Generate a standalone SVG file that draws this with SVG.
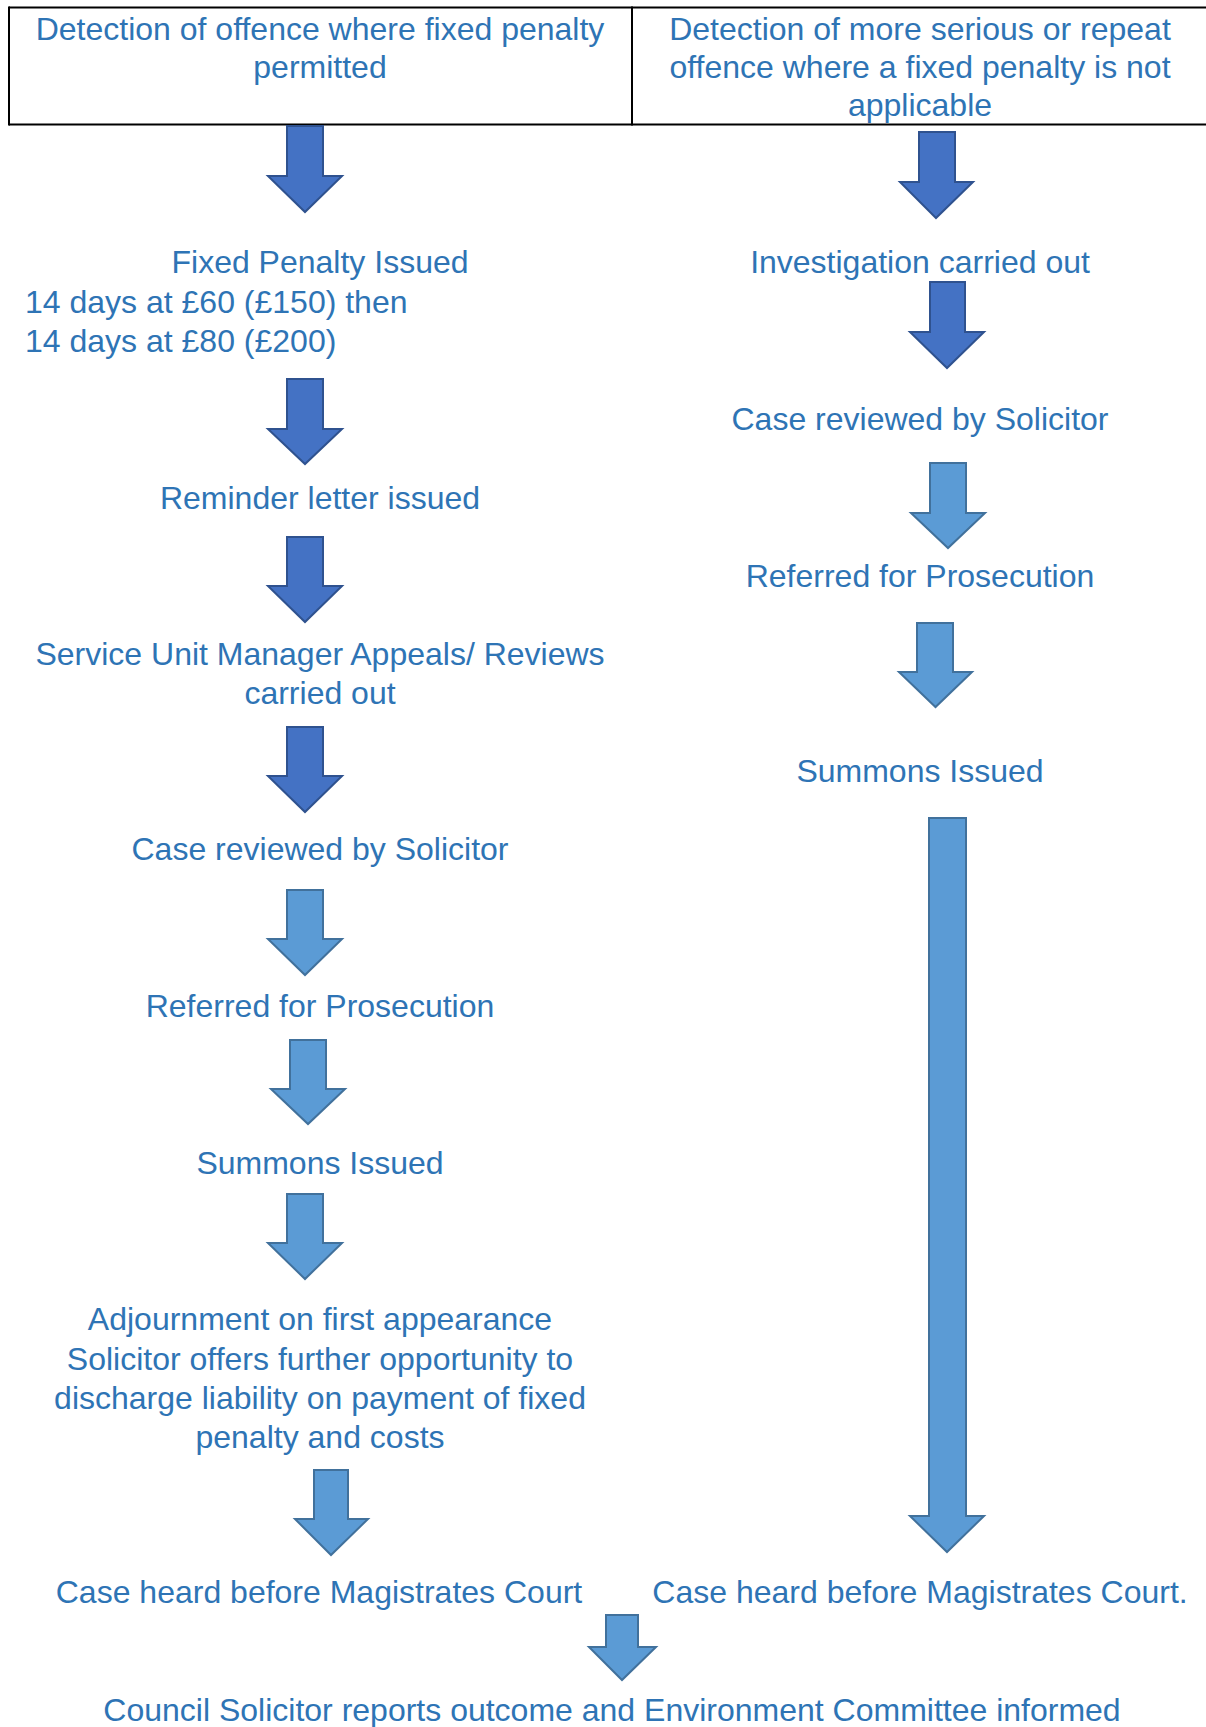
<svg xmlns="http://www.w3.org/2000/svg" width="1206" height="1727" viewBox="0 0 1206 1727">
<style>
.t{font-family:"Liberation Sans",Arial,sans-serif;font-size:32px;fill:#2E74B5;text-anchor:middle}
.tl{font-family:"Liberation Sans",Arial,sans-serif;font-size:32px;fill:#2E74B5;text-anchor:start}
.dk{fill:#4472C4;stroke:#2F528F;stroke-width:2;stroke-linejoin:miter}
.lt{fill:#5B9BD5;stroke:#41719C;stroke-width:2;stroke-linejoin:miter}
.cell{fill:none;stroke:#000;stroke-width:2}
</style>
<rect width="1206" height="1727" fill="#fff"/>
<g id="header">
<line class="cell" x1="9" y1="7.5" x2="1206" y2="7.5"/>
<line class="cell" x1="9" y1="124.5" x2="1206" y2="124.5"/>
<line class="cell" x1="9" y1="6.5" x2="9" y2="125.5"/>
<line class="cell" x1="632" y1="6.5" x2="632" y2="125.5"/>
</g>
<g id="n-detect-fixed">
<text class="t" x="320" y="39.5">Detection of offence where fixed penalty</text>
<text class="t" x="320" y="77.5">permitted</text>
</g>
<g id="n-detect-serious">
<text class="t" x="920" y="39.5">Detection of more serious or repeat</text>
<text class="t" x="920" y="77.5">offence where a fixed penalty is not</text>
<text class="t" x="920" y="115.5">applicable</text>
</g>
<g id="n-fixed-issued">
<text class="t" x="320" y="273">Fixed Penalty Issued</text>
<text class="tl" x="25" y="313">14 days at £60 (£150) then</text>
<text class="tl" x="25" y="352">14 days at £80 (£200)</text>
</g>
<g id="n-reminder"><text class="t" x="320" y="509">Reminder letter issued</text></g>
<g id="n-sum-appeals">
<text class="t" x="320" y="665">Service Unit Manager Appeals/ Reviews</text>
<text class="t" x="320" y="704">carried out</text>
</g>
<g id="n-left-review"><text class="t" x="320" y="860">Case reviewed by Solicitor</text></g>
<g id="n-left-referred"><text class="t" x="320" y="1017">Referred for Prosecution</text></g>
<g id="n-left-summons"><text class="t" x="320" y="1174">Summons Issued</text></g>
<g id="n-adjournment">
<text class="t" x="320" y="1330">Adjournment on first appearance</text>
<text class="t" x="320" y="1370">Solicitor offers further opportunity to</text>
<text class="t" x="320" y="1409">discharge liability on payment of fixed</text>
<text class="t" x="320" y="1448">penalty and costs</text>
</g>
<g id="n-left-court"><text class="t" x="319" y="1603">Case heard before Magistrates Court</text></g>
<g id="n-right-court"><text class="t" x="920" y="1603">Case heard before Magistrates Court.</text></g>
<g id="n-council"><text class="t" x="612" y="1721">Council Solicitor reports outcome and Environment Committee informed</text></g>
<g id="n-investigation"><text class="t" x="920" y="273">Investigation carried out</text></g>
<g id="n-right-review"><text class="t" x="920" y="430">Case reviewed by Solicitor</text></g>
<g id="n-right-referred"><text class="t" x="920" y="587">Referred for Prosecution</text></g>
<g id="n-right-summons"><text class="t" x="920" y="782">Summons Issued</text></g>
<g id="connectors">
<polygon class="dk" points="287,126 323,126 323,176 342,176 305,212 268,176 287,176"/>
<polygon class="dk" points="287,379 323,379 323,429 342,429 305,464 268,429 287,429"/>
<polygon class="dk" points="287,537 323,537 323,586 342,586 305,622 268,586 287,586"/>
<polygon class="dk" points="287,727 323,727 323,776 342,776 305,812 268,776 287,776"/>
<polygon class="lt" points="287,890 323,890 323,939 342,939 305,975 268,939 287,939"/>
<polygon class="lt" points="290,1040 326,1040 326,1089 345,1089 308,1124 271,1089 290,1089"/>
<polygon class="lt" points="287,1194 323,1194 323,1243 342,1243 305,1279 268,1243 287,1243"/>
<polygon class="lt" points="314,1470 348,1470 348,1519 368,1519 331,1555 295,1519 314,1519"/>
<polygon class="lt" points="606,1615 638,1615 638,1647 656,1647 622,1680 589,1647 606,1647"/>
<polygon class="dk" points="919,132 955,132 955,182 973,182 936,218 900,182 919,182"/>
<polygon class="dk" points="930,282 965,282 965,332 984,332 947,368 910,332 930,332"/>
<polygon class="lt" points="930,463 966,463 966,513 985,513 948,548 911,513 930,513"/>
<polygon class="lt" points="917,623 953,623 953,672 972,672 935.5,707 899,672 917,672"/>
<polygon class="lt" points="929,818 966,818 966,1516 984,1516 947,1552 910,1516 929,1516"/>
</g>
</svg>
